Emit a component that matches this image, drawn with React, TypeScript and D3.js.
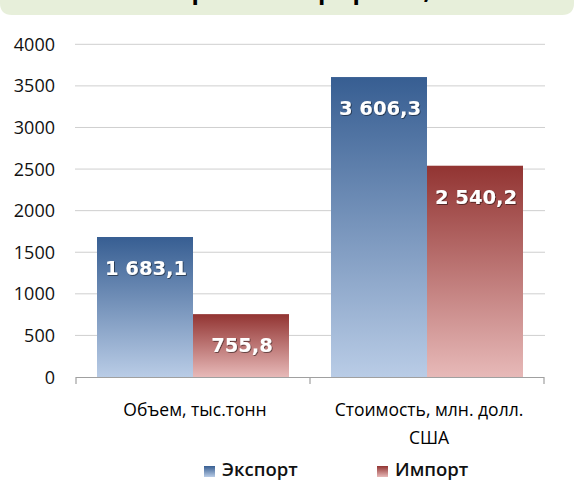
import React from "react";
import * as d3 from "d3";

const categories = ["Объем, тыс.тонн", "Стоимость, млн. долл.|США"];
const seriesNames = ["Экспорт", "Импорт"];
const exportValues = [1683.1, 3606.3];
const importValues = [755.8, 2540.2];
const valueLabels = [["1 683,1", "755,8"], ["3 606,3", "2 540,2"]];
const yTicks = [0, 500, 1000, 1500, 2000, 2500, 3000, 3500, 4000];
const titleText = "Экспорт и импорт рыбы, 2013 г.";

const W = 574, H = 482;
const left = 76, right = 544, top = 44.3, bottom = 377;

export default function App() {
  const x0 = d3.scaleBand<string>().domain(categories).range([left, right]);
  const pad = 21;
  const x1 = d3.scaleBand<number>().domain([0, 1]).range([pad, x0.bandwidth() - pad]);
  const y = d3.scaleLinear().domain([0, 4000]).range([bottom, top]);
  const series = [exportValues, importValues];
  const grads = ["gExp", "gImp"];
  const font = "'Open Sans', 'Liberation Sans', sans-serif";
  return (
    <svg width={W} height={H} style={{ position: "absolute", left: 0, top: 0 }} >
      <defs>
        <linearGradient id="gExp" x1="0" y1="0" x2="0" y2="1">
          <stop offset="0" stopColor="#375e92" />
          <stop offset="1" stopColor="#b9cce6" />
        </linearGradient>
        <linearGradient id="gImp" x1="0" y1="0" x2="0" y2="1">
          <stop offset="0" stopColor="#923432" />
          <stop offset="1" stopColor="#e7b9b8" />
        </linearGradient>
        <filter id="sh" x="-10%" y="-20%" width="130%" height="150%">
          <feDropShadow dx="0.8" dy="0.8" stdDeviation="0.6" floodColor="#000" floodOpacity="0.6" />
        </filter>
      </defs>
      <rect x={0} y={0} width={W} height={H} fill="#ffffff" />
      <path d={`M0,-20 H${W} V3 Q${W},15 ${W - 12},15 H12 Q0,15 0,3 Z`} fill="#e7efda" />
      <text x={118} y={-1} fontFamily={font} fontWeight="bold" fontSize={24} fill="#000">{titleText}</text>
      {yTicks.slice(1).map((t) => (
        <line key={t} x1={left - 1} x2={right + 1} y1={y(t)} y2={y(t)} stroke="#cfcfcf" strokeWidth={1} />
      ))}
      {yTicks.map((t) => (
        <text key={"l" + t} x={55} y={y(t) + 6.5} textAnchor="end" fontFamily={font} fontSize={18} fill="#111">{t}</text>
      ))}
      {categories.map((c, ci) =>
        series.map((s, si) => {
          const bx = (x0(c) as number) + (x1(si) as number);
          const bw = x1.bandwidth();
          const by = y(s[ci]);
          return (
            <g key={c + si}>
              <rect x={bx} y={by} width={bw} height={bottom - by} fill={`url(#${grads[si]})`} />
              <text x={bx + bw / 2 + 1} y={by + 38} textAnchor="middle" fontFamily="'DejaVu Sans', sans-serif" fontWeight="bold" fontSize={19.5} fill="#fff" filter="url(#sh)">{valueLabels[ci][si]}</text>
            </g>
          );
        })
      )}
      <line x1={left} x2={right} y1={bottom + 0.5} y2={bottom + 0.5} stroke="#a0a0a0" strokeWidth={1.2} />
      {[left, left + x0.bandwidth(), right].map((tx, i) => (
        <line key={"t" + i} x1={tx} x2={tx} y1={bottom} y2={bottom + 7} stroke="#a0a0a0" strokeWidth={1.2} />
      ))}
      {categories.map((c) => {
        const cx = (x0(c) as number) + x0.bandwidth() / 2;
        return c.split("|").map((line, li) => (
          <text key={c + li} x={cx + 2} y={415.5 + li * 28} textAnchor="middle" fontFamily={font} fontSize={17.5} fill="#000">{line}</text>
        ));
      })}
      {seriesNames.map((n, i) => {
        const lx = [204, 377][i];
        return (
          <g key={n}>
            <rect x={lx} y={466} width={11} height={11} fill={`url(#${grads[i]})`} />
            <text x={lx + 18} y={476} fontFamily={font} fontSize={18.5} fontWeight={600} fill="#111">{n}</text>
          </g>
        );
      })}
    </svg>
  );
}
